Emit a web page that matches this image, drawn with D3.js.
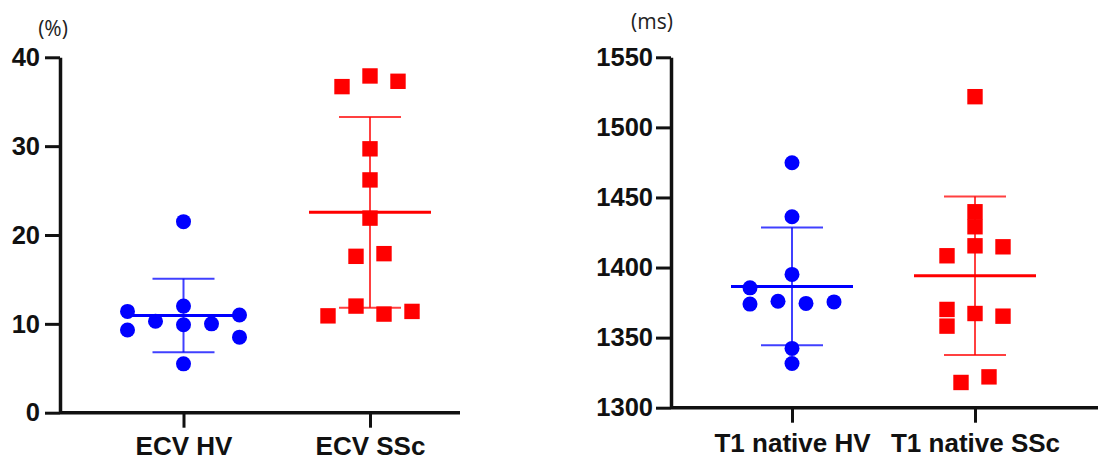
<!DOCTYPE html>
<html>
<head>
<meta charset="utf-8">
<script src="https://cdn.jsdelivr.net/npm/d3@7"></script>
<style>
  body { margin: 0; background: #fff; }
  svg { display: block; }
  .axis path, .axis line { stroke: #111; }
  .axis text { fill: #111; font-weight: bold; font-family: "Liberation Sans", Arial, sans-serif; }
</style>
</head>
<body>
<div id="chart"></div>
<script>
// values
const ecvCategories = ["ECV HV", "ECV SSc"];
const ecvTicks = [0, 10, 20, 30, 40];
const ecvHV = [21.5, 11.4, 9.3, 10.3, 12.0, 9.9, 10.0, 11.0, 8.5, 5.5];
const ecvHVSlot = [0, -4, -4, -2, 0, 0, 2, 4, 4, 0];
const ecvSSc = [36.7, 37.9, 37.3, 29.7, 26.2, 21.9, 17.6, 17.9, 12.0, 10.9, 11.1, 11.4];
const ecvSScSlot = [-2, 0, 2, 0, 0, 0, -1, 1, -1, -3, 1, 3];

const t1Categories = ["T1 native HV", "T1 native SSc"];
const t1Ticks = [1300, 1350, 1400, 1450, 1500, 1550];
const t1HV = [1474.8, 1436.2, 1395.1, 1385.5, 1373.9, 1376.0, 1374.4, 1375.5, 1342.3, 1331.5];
const t1HVSlot = [0, 0, 0, -3, -3, -1, 1, 3, 0, 0];
const t1SSc = [1521.9, 1439.8, 1429.1, 1415.5, 1414.8, 1408.4, 1370.1, 1358.2, 1367.2, 1365.3, 1322.0, 1318.0];
const t1SScSlot = [0, 0, 0, 0, 2, -2, -2, -2, 0, 2, 1, -1];

var svg = d3.select("#chart").append("svg")
    .attr("width", 1098)
    .attr("height", 461);

function drawPanel(p) {
    var y = d3.scaleLinear().domain(p.yDomain).range([p.bottom, p.top]);
    var x = d3.scalePoint().domain(p.categories).range(p.catRange);
    var g = svg.append("g");

    // x axis baseline
    g.append("line")
        .attr("x1", p.axisX).attr("x2", p.axisEnd)
        .attr("y1", p.bottom).attr("y2", p.bottom)
        .attr("stroke", "#111").attr("stroke-width", 3.5);

    var xAxis = g.append("g").attr("class", "axis")
        .attr("transform", "translate(0," + p.bottom + ")")
        .call(d3.axisBottom(x).tickSize(15).tickSizeOuter(0));
    xAxis.select(".domain").remove();
    xAxis.selectAll("line").attr("stroke-width", 3);
    xAxis.selectAll("text")
        .attr("y", p.labelDy).attr("dy", 0)
        .style("font-size", "26px");

    var yAxis = g.append("g").attr("class", "axis")
        .attr("transform", "translate(" + p.axisX + ",0)")
        .call(d3.axisLeft(y).tickValues(p.ticks).tickFormat(d3.format("d"))
            .tickSize(15).tickSizeOuter(0).tickPadding(p.tickPad));
    yAxis.select(".domain").attr("stroke-width", 3.5);
    yAxis.selectAll("line").attr("stroke-width", 3);
    yAxis.selectAll("text").style("font-size", "25.5px");

    // unit label
    g.append("text")
        .attr("x", p.unitX).attr("y", p.unitY)
        .attr("text-anchor", "middle")
        .attr("fill", "#222")
        .style("font-family", "'Open Sans', 'DejaVu Sans', sans-serif")
        .style("font-size", "21px")
        .text(p.unit);

    p.groups.forEach(function (grp, i) {
        var cx = x(p.categories[i]);
        var pts = grp.values.map(function (v, j) { return { v: v, s: grp.slots[j] }; });

        if (grp.shape === "circle") {
            g.selectAll(null).data(pts).enter().append("circle")
                .attr("cx", function (d) { return cx + d.s * 14; })
                .attr("cy", function (d) { return y(d.v); })
                .attr("r", 7.5)
                .attr("fill", grp.color);
        } else {
            g.selectAll(null).data(pts).enter().append("rect")
                .attr("x", function (d) { return cx + d.s * 14 - 7.7; })
                .attr("y", function (d) { return y(d.v) - 7.7; })
                .attr("width", 15.4).attr("height", 15.4)
                .attr("fill", grp.color);
        }

        // mean and SD
        var m = d3.mean(grp.values), sd = d3.deviation(grp.values);
        var err = g.append("g").attr("stroke", grp.color).attr("stroke-width", 2).attr("stroke-opacity", 0.75);
        err.append("line").attr("x1", cx).attr("x2", cx).attr("y1", y(m + sd)).attr("y2", y(m - sd));
        err.append("line").attr("x1", cx - 31).attr("x2", cx + 31).attr("y1", y(m + sd)).attr("y2", y(m + sd));
        err.append("line").attr("x1", cx - 31).attr("x2", cx + 31).attr("y1", y(m - sd)).attr("y2", y(m - sd));
        g.append("line")
            .attr("x1", cx - 61).attr("x2", cx + 61)
            .attr("y1", y(m)).attr("y2", y(m))
            .attr("stroke", grp.color).attr("stroke-width", 3);
    });
}

drawPanel({
    categories: ecvCategories, ticks: ecvTicks, yDomain: [0, 40],
    top: 57.3, bottom: 412.7, axisX: 60, axisEnd: 460, catRange: [183.5, 370],
    labelDy: 42.5, tickPad: 5, unit: "(%)", unitX: 53, unitY: 36,
    groups: [
        { values: ecvHV, slots: ecvHVSlot, color: "#0000ff", shape: "circle" },
        { values: ecvSSc, slots: ecvSScSlot, color: "#ff0000", shape: "square" }
    ]
});

drawPanel({
    categories: t1Categories, ticks: t1Ticks, yDomain: [1300, 1550],
    top: 57.3, bottom: 407.7, axisX: 671, axisEnd: 1098, catRange: [792, 975],
    labelDy: 44, tickPad: 3, unit: "(ms)", unitX: 652, unitY: 29,
    groups: [
        { values: t1HV, slots: t1HVSlot, color: "#0000ff", shape: "circle" },
        { values: t1SSc, slots: t1SScSlot, color: "#ff0000", shape: "square" }
    ]
});
</script>
</body>
</html>
